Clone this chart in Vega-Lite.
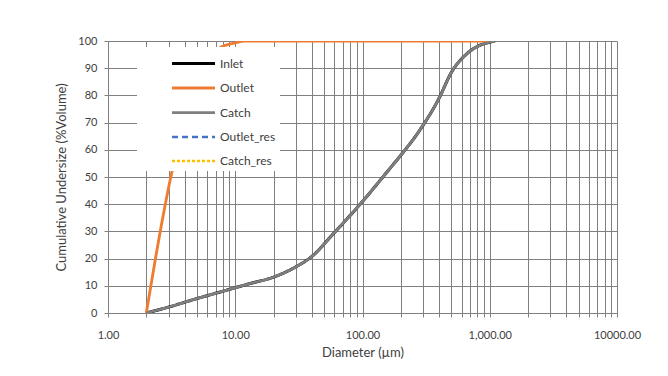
{
  "$schema": "https://vega.github.io/schema/vega-lite/v6.json",
  "width": 509,
  "height": 272,
  "autosize": "none",
  "padding": {"left": 108, "top": 41, "right": 51, "bottom": 63},
  "background": "white",
  "config": {
    "view": {"stroke": null},
    "font": "Lato",
    "axis": {"labelFont": "Lato", "titleFont": "Lato", "labelColor": "#404040", "titleColor": "#404040", "labelFontSize": 11, "titleFontSize": 13, "titleFontWeight": "normal", "gridColor": "#808080", "gridOpacity": 1, "gridWidth": 1, "domainColor": "#808080", "tickColor": "#808080", "tickSize": 4}
  },
  "data": {
    "values": [
      {"series": "Inlet", "d": 2, "v": 0},
      {"series": "Inlet", "d": 3, "v": 2.2},
      {"series": "Inlet", "d": 5, "v": 5.3},
      {"series": "Inlet", "d": 8, "v": 8},
      {"series": "Inlet", "d": 13, "v": 10.8},
      {"series": "Inlet", "d": 20, "v": 13.2},
      {"series": "Inlet", "d": 30, "v": 17},
      {"series": "Inlet", "d": 40, "v": 20.8},
      {"series": "Inlet", "d": 60, "v": 29.5},
      {"series": "Inlet", "d": 100, "v": 41},
      {"series": "Inlet", "d": 160, "v": 52.5},
      {"series": "Inlet", "d": 200, "v": 58},
      {"series": "Inlet", "d": 280, "v": 67},
      {"series": "Inlet", "d": 400, "v": 79},
      {"series": "Inlet", "d": 500, "v": 88.5},
      {"series": "Inlet", "d": 650, "v": 95},
      {"series": "Inlet", "d": 800, "v": 98},
      {"series": "Inlet", "d": 950, "v": 99.3},
      {"series": "Inlet", "d": 1100, "v": 100},
      {"series": "Outlet", "d": 2, "v": 0},
      {"series": "Outlet", "d": 3.2, "v": 52.5},
      {"series": "Outlet", "d": 5, "v": 85},
      {"series": "Outlet", "d": 7.6, "v": 97.5},
      {"series": "Outlet", "d": 10, "v": 99.3},
      {"series": "Outlet", "d": 12, "v": 100},
      {"series": "Outlet", "d": 1100, "v": 100},
      {"series": "Catch", "d": 2, "v": 0},
      {"series": "Catch", "d": 3, "v": 2.2},
      {"series": "Catch", "d": 5, "v": 5.3},
      {"series": "Catch", "d": 8, "v": 8},
      {"series": "Catch", "d": 13, "v": 10.8},
      {"series": "Catch", "d": 20, "v": 13.2},
      {"series": "Catch", "d": 30, "v": 17},
      {"series": "Catch", "d": 40, "v": 20.8},
      {"series": "Catch", "d": 60, "v": 29.5},
      {"series": "Catch", "d": 100, "v": 41},
      {"series": "Catch", "d": 160, "v": 52.5},
      {"series": "Catch", "d": 200, "v": 58},
      {"series": "Catch", "d": 280, "v": 67},
      {"series": "Catch", "d": 400, "v": 79},
      {"series": "Catch", "d": 500, "v": 88.5},
      {"series": "Catch", "d": 650, "v": 95},
      {"series": "Catch", "d": 800, "v": 98},
      {"series": "Catch", "d": 950, "v": 99.3},
      {"series": "Catch", "d": 1100, "v": 100}
    ]
  },
  "mark": {"type": "line", "clip": true, "interpolate": "monotone"},
  "encoding": {
    "x": {
      "field": "d", "type": "quantitative",
      "scale": {"type": "log", "domain": [1, 10000], "nice": false},
      "axis": {
        "title": "Diameter (µm)",
        "values": [1,2,3,4,5,6,7,8,9,10,20,30,40,50,60,70,80,90,100,200,300,400,500,600,700,800,900,1000,2000,3000,4000,5000,6000,7000,8000,9000,10000],
        "labelExpr": "datum.value == 1 ? '1.00' : datum.value == 10 ? '10.00' : datum.value == 100 ? '100.00' : datum.value == 1000 ? '1,000.00' : datum.value == 10000 ? '10000.00' : ''",
        "labelPadding": 12,
        "titlePadding": 6,
        "labelFlush": false,
        "labelOverlap": false
      }
    },
    "y": {
      "field": "v", "type": "quantitative",
      "scale": {"domain": [0, 100], "nice": false},
      "axis": {
        "title": "Cumulative Undersize (%Volume)",
        "values": [0,10,20,30,40,50,60,70,80,90,100],
        "labelPadding": 7,
        "titlePadding": 9
      }
    },
    "color": {
      "field": "series", "type": "nominal",
      "scale": {"domain": ["Inlet", "Outlet", "Catch", "Outlet_res", "Catch_res"], "range": ["#000000", "#ED7D31", "#7f7f7f", "#4472C4", "#FFC000"]},
      "legend": {
        "title": null,
        "orient": "none",
        "legendX": 29,
        "legendY": 6,
        "fillColor": "white",
        "padding": 4,
        "symbolType": "M-2,0H2",
        "symbolSize": 462,
        "symbolOffset": 40,
        "symbolStrokeWidth": 2.5,
        "labelOffset": 14,
        "labelFont": "Lato",
        "labelFontSize": 12,
        "labelColor": "#404040",
        "rowPadding": 5.5,
        "labelExpr": "datum.label + '                         '"
      }
    },
    "strokeDash": {
      "field": "series", "type": "nominal",
      "scale": {"domain": ["Inlet", "Outlet", "Catch", "Outlet_res", "Catch_res"], "range": [[1, 0], [1, 0], [1, 0], [6, 4], [3, 2]]},
      "legend": null
    },
    "strokeWidth": {
      "field": "series", "type": "nominal",
      "scale": {"domain": ["Inlet", "Outlet", "Catch", "Outlet_res", "Catch_res"], "range": [3, 2.5, 2, 2, 2]},
      "legend": null
    },
    "order": {"field": "d", "type": "quantitative"}
  }
}
